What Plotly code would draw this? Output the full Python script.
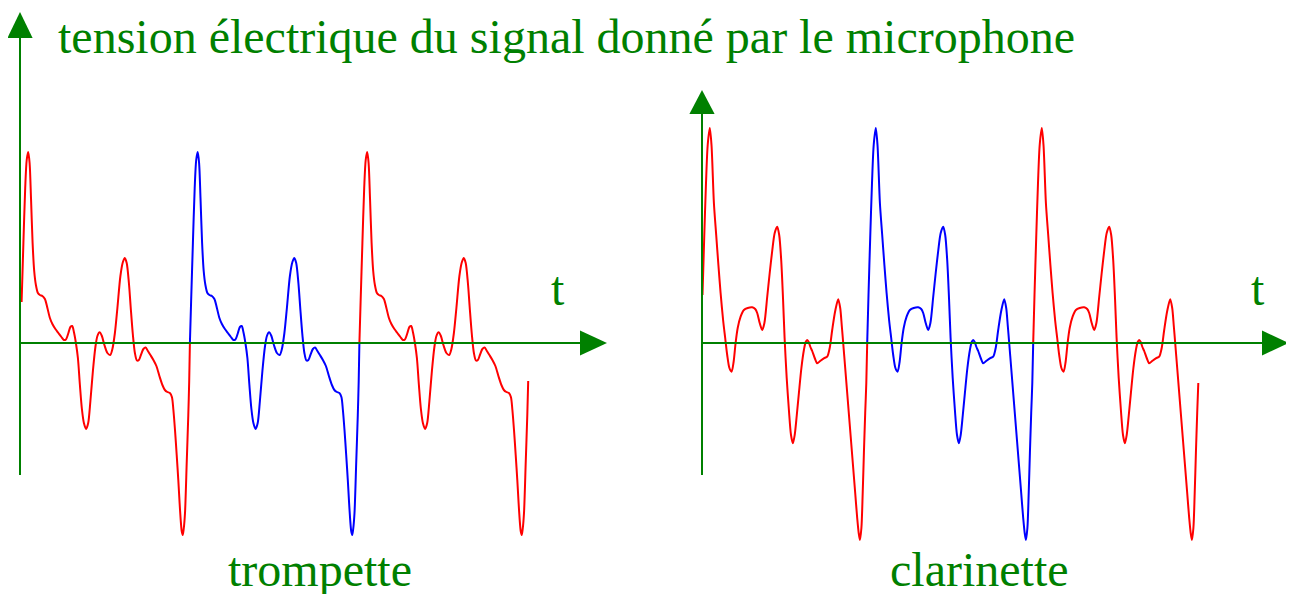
import plotly.graph_objects as go

# ---------------- data ----------------
# Trompette : one period of the signal, time relative to a rising zero crossing (u.a.),
# voltage in u.a. (positive upward)
TR_PERIODE = 169.5
TR_PHASE0 = 0.4          # first rising zero crossing, relative to the t=0 axis
TR_DEBUT = 1.2           # recording starts here inside the first period
TR_FIN = 168.8           # recording ends here inside the last period
TR_REL = [0, 1.2, 3.0, 4.8, 6.3, 7.8, 9.2, 10.6, 12.2, 13.8, 15.5, 17.5, 19.5, 22.0, 24.5,
          27.0, 29.5, 32.0, 35.0, 38.0, 41.0, 43.5, 45.5, 48.0, 50.0, 51.8, 53.5, 55.5,
          57.5, 59.5, 61.5, 63.5, 65.7, 67.8, 70.0, 72.5, 75.0, 77.0, 79.2, 81.5, 84.0,
          87.0, 89.8, 92.0, 94.5, 97.0, 100.0, 102.5, 104.4, 106.3, 108.5, 110.5, 112.5,
          114.5, 116.5, 118.5, 120.5, 123.0, 125.2, 127.5, 130.0, 133.0, 136.0, 139.0,
          142.0, 144.5, 147.0, 149.5, 151.5, 153.0, 154.6, 156.3, 157.9, 159.2, 160.3,
          161.3, 162.3, 163.3, 164.6, 166.3, 167.9, 168.8, 169.5]
TR_VAL = [0, 41, 100, 155, 183, 191, 180, 145, 100, 72, 58, 50, 48, 47, 44,
          35, 25, 19, 14, 10, 6, 3, 3.5, 10, 16, 17, 11, 0,
          -15, -42, -66, -80, -86, -80, -58, -28, -4, 7, 10.7, 7, -2,
          -10, -12, -6, 10, 35, 67, 81, 85, 80, 60, 33, 8,
          -10, -17.5, -17, -12, -6, -4.5, -8, -12, -17, -23, -33,
          -42, -47, -49, -50, -54, -67, -87, -112, -137, -160, -177,
          -188, -192, -186, -170, -120, -72, -38, 0]

# Clarinette
CL_PERIODE = 166.0
CL_PHASE0 = -0.8
CL_DEBUT = 1.3
CL_FIN = 165.1
CL_REL = [0, 1.3, 3.0, 4.8, 6.5, 8.6, 10.3, 12.7, 15.0, 17.2, 19.4, 22.0, 24.0, 26.0,
          28.2, 30.4, 32.4, 34.4, 36.5, 39.4, 42.7, 46.5, 51.0, 54.0, 56.0, 58.5, 61.0,
          63.2, 66.0, 68.5, 71.0, 73.5, 76.0, 78.0, 80.0, 81.8, 83.4, 85.5, 87.7, 89.8,
          91.7, 93.5, 95.6, 97.7, 100.2, 102.7, 104.5, 106.0, 107.5, 109.2, 111.0, 113.5,
          116.0, 119.0, 122.7, 126.0, 128.5, 131.0, 134.0, 137.0, 139.0, 140.6, 142.0,
          144.0, 146.0, 148.0, 150.0, 152.0, 154.0, 156.0, 157.5, 158.7, 160.2, 161.5,
          162.7, 164.0, 165.1, 166.0]
CL_VAL = [0, 48, 105, 160, 198, 215, 198, 140, 108, 78, 50, 22, 5, -12,
          -25, -28.7, -19, 0, 15, 26.3, 33, 35, 35.7, 34, 30, 20, 13,
          20, 46, 70, 92, 110, 116.3, 108, 83, 45, 5, -35, -67, -92,
          -100.3, -92, -72, -50, -25, -7, 1, 3, 1, -4, -8, -15,
          -20.3, -18, -15.3, -13.7, -5, 13, 32, 43.7, 35, 17, 0,
          -25, -50, -75, -100, -125, -150, -175, -190, -197, -185, -150,
          -110, -70, -40, 0]

TITRE = "tension électrique du signal donné par le microphone"
LABEL_T = "t"
NOMS = ["trompette", "clarinette"]

VERT = "#008000"
ROUGE = "#ff0000"
BLEU = "#0000ff"
FONT = "Liberation Serif"


def periode(rel, val, per, phase0, k, debut=None, fin=None):
    ts, vs = [], []
    for r, v in zip(rel, val):
        if debut is not None and r < debut:
            continue
        if fin is not None and r > fin:
            continue
        ts.append(phase0 + k * per + r)
        vs.append(v)
    return ts, vs


fig = go.Figure()

for rel, val, per, ph, deb, fin, xa in [
    (TR_REL, TR_VAL, TR_PERIODE, TR_PHASE0, TR_DEBUT, TR_FIN, "x"),
    (CL_REL, CL_VAL, CL_PERIODE, CL_PHASE0, CL_DEBUT, CL_FIN, "x2"),
]:
    segs = [(0, deb, None, ROUGE), (2, None, fin, ROUGE), (1, None, None, BLEU)]
    for k, d, f, col in segs:
        ts, vs = periode(rel, val, per, ph, k, d, f)
        fig.add_trace(go.Scatter(x=ts, y=vs, mode="lines", xaxis=xa, yaxis="y",
                                 line=dict(color=col, width=2, shape="spline", smoothing=0.8),
                                 hoverinfo="skip", showlegend=False))

# the page has an 8px body margin: the figure starts at (8, 8) in the window
W, H = 1286, 586
X0_TR, X0_CL, Y0 = 12, 694, 335     # figure pixels of the two origins
fig.update_layout(
    width=W, height=H, margin=dict(l=0, r=0, t=0, b=0),
    paper_bgcolor="white", plot_bgcolor="white", showlegend=False,
    xaxis=dict(range=[-X0_TR, W - X0_TR], visible=False, fixedrange=True),
    xaxis2=dict(range=[-X0_CL, W - X0_CL], visible=False, overlaying="x", anchor="y",
                fixedrange=True),
    yaxis=dict(range=[-(H - Y0), Y0], visible=False, fixedrange=True),
)

shapes = []
# axes of each graph (axis coordinates)
for xr, t_end, tip_t, y_bot, y_base, y_tip in [("x", 560, 587, -132, 305, 331),
                                              ("x2", 560, 586.5, -132, 229, 253)]:
    shapes.append(dict(type="line", xref=xr, yref="y", x0=0, x1=t_end + 1, y0=0, y1=0,
                       line=dict(color=VERT, width=2)))
    shapes.append(dict(type="path", xref=xr, yref="y",
                       path=f"M {t_end},12.6 L {tip_t},0 L {t_end},-12.6 Z",
                       fillcolor=VERT, line=dict(color=VERT, width=0)))
    shapes.append(dict(type="line", xref=xr, yref="y", x0=0, x1=0, y0=y_bot, y1=y_base + 1,
                       line=dict(color=VERT, width=2)))
    shapes.append(dict(type="path", xref=xr, yref="y",
                       path=f"M -12.6,{y_base} L 0,{y_tip} L 12.6,{y_base} Z",
                       fillcolor=VERT, line=dict(color=VERT, width=0)))
fig.update_layout(shapes=shapes)

ann = []
fnt = dict(family=FONT, size=48, color=VERT)
ann.append(dict(text=TITRE, xref="x", yref="y", x=36, y=343 - 36, xanchor="left",
                yanchor="middle", showarrow=False, font=fnt))
ann.append(dict(text=LABEL_T, xref="x", yref="y", x=537.5, y=343 - 288, xanchor="center",
                yanchor="middle", showarrow=False, font=fnt))
ann.append(dict(text=LABEL_T, xref="x2", yref="y", x=555.5, y=343 - 288, xanchor="center",
                yanchor="middle", showarrow=False, font=fnt))
ann.append(dict(text=NOMS[0], xref="x", yref="y", x=299.5, y=343 - 569, xanchor="center",
                yanchor="middle", showarrow=False, font=fnt))
ann.append(dict(text=NOMS[1], xref="x2", yref="y", x=277.5, y=343 - 569, xanchor="center",
                yanchor="middle", showarrow=False, font=fnt))
fig.update_layout(annotations=ann)

fig.write_html("out.html")
